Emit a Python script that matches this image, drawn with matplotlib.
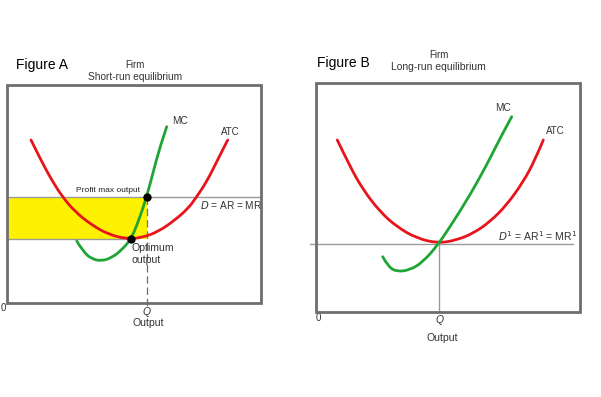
import numpy as np
import matplotlib.pyplot as plt
from matplotlib.path import Path
from matplotlib.patches import PathPatch

plt.rcParams['font.family'] = ['Liberation Sans', 'DejaVu Sans']

# everything in pixel units (x right, y down)

# Figure A - short run
atcA_x = [31, 41.7, 51.7, 62.3, 75, 91.7, 108.3, 126.7, 141.7, 158.3, 175, 188.3, 196.7, 206.7, 216.7, 227.7]
atcA_y = [140, 161.7, 180, 196.7, 211.7, 225, 234.3, 239, 237.7, 231.7, 220, 208.3, 196.7, 181.7, 161.7, 140]
mcA_x = [76.7, 83.3, 91.7, 101.7, 111.7, 121.7, 131, 138.3, 146.7, 153.3, 160, 166.7]
mcA_y = [241, 251.7, 259, 261, 257.7, 250, 239, 221.7, 196.7, 171.7, 146.7, 126.7]
priceA = 196.7     # D = AR = MR
minA = 238.5       # min ATC
qA = 146.7
optA = (131, 239)

# Figure B - long run
atcB_x = [337.3, 350, 363.3, 380, 396.7, 416.7, 438.3, 456.7, 473.3, 490, 506.7, 523.3, 535, 543.3]
atcB_y = [140, 166.7, 190, 211.7, 226.7, 238.3, 243.3, 240, 233.3, 221.7, 205, 181.7, 160, 140]
mcB_x = [382.7, 388.3, 396.7, 410, 423.3, 438.3, 453.3, 470, 486.7, 500, 511.7]
mcB_y = [256.7, 266.7, 271.7, 270, 261.7, 244.3, 221.7, 195, 165, 138.3, 116.7]
priceB = 244
qB = 438.5

red = '#e8141c'
green = '#1fa535'
grey = '#6e6e6e'
light = '#9a9a9a'
txt = '#333333'


def smooth_curve(ax, xs, ys, color):
    # quadratic bezier through midpoints, read points act as control points
    pts = list(zip(xs, ys))
    verts = [pts[0]]
    codes = [Path.MOVETO]
    for i in range(1, len(pts) - 1):
        mid = ((pts[i][0] + pts[i + 1][0]) / 2, (pts[i][1] + pts[i + 1][1]) / 2)
        if i == len(pts) - 2:
            mid = pts[-1]
        verts += [pts[i], mid]
        codes += [Path.CURVE3, Path.CURVE3]
    ax.add_patch(PathPatch(Path(verts, codes), fill=False, ec=color, lw=2, zorder=3, capstyle='round'))


fig = plt.figure(figsize=(6.01, 3.97), dpi=100)
ax = fig.add_axes([0, 0, 1, 1])
ax.set_xlim(0, 601)
ax.set_ylim(397, 0)
ax.axis('off')

# ---- Figure A ----
ax.add_patch(plt.Rectangle((7, priceA), qA - 7, minA - priceA, color='#fff200', lw=0, zorder=1))
ax.plot([7, 261], [priceA, priceA], color=light, lw=1, zorder=2)
ax.plot([7, optA[0]], [minA, minA], color=light, lw=1, zorder=2)
ax.plot([qA, qA], [priceA, 308], color=grey, lw=0.9, ls=(0, (6, 3)), zorder=2)
smooth_curve(ax, atcA_x, atcA_y, red)
smooth_curve(ax, mcA_x, mcA_y, green)
ax.plot([qA, optA[0]], [priceA, optA[1]], 'o', color='black', ms=5, zorder=4)
ax.add_patch(plt.Rectangle((7, 85), 254, 218, fill=False, ec=grey, lw=2, zorder=5))

ax.text(16, 65, 'Figure A', fontsize=10, va='center', ha='left')
ax.text(135, 65.5, 'Firm', fontsize=7, va='center', ha='center', color=txt)
ax.text(135, 76.5, 'Short-run equilibrium', fontsize=7.3, va='center', ha='center', color=txt)
ax.text(180, 121.5, 'MC', fontsize=7.2, va='center', ha='center', color=txt)
ax.text(230, 132, 'ATC', fontsize=7, va='center', ha='center', color=txt)
ax.text(108, 190.5, 'Profit max output', fontsize=6, va='center', ha='center', color='#222222')
ax.text(200, 205, r'$D$ = AR = MR', fontsize=7.3, va='center', ha='left', color=txt)
ax.text(132, 248, 'Optimum', fontsize=7.6, va='center', ha='left', color=txt)
ax.text(132, 260, 'output', fontsize=7.6, va='center', ha='left', color=txt)
ax.text(3, 308, '0', fontsize=7, va='center', ha='center', color=txt)
ax.text(qA, 312, 'Q', fontsize=7.5, va='center', ha='center', style='italic', color=txt)
ax.text(148, 323.5, 'Output', fontsize=7.6, va='center', ha='center', color=txt)

# ---- Figure B ----
ax.plot([310, 573], [priceB, priceB], color=light, lw=1, zorder=2)
ax.plot([qB, qB], [priceB, 312], color=light, lw=1, zorder=2)
smooth_curve(ax, atcB_x, atcB_y, red)
smooth_curve(ax, mcB_x, mcB_y, green)
ax.add_patch(plt.Rectangle((316, 83), 264, 229, fill=False, ec=grey, lw=2, zorder=5))

ax.text(317, 63, 'Figure B', fontsize=10, va='center', ha='left')
ax.text(439, 55, 'Firm', fontsize=7, va='center', ha='center', color=txt)
ax.text(438, 67, 'Long-run equilibrium', fontsize=7.5, va='center', ha='center', color=txt)
ax.text(503, 108, 'MC', fontsize=7.2, va='center', ha='center', color=txt)
ax.text(555, 131, 'ATC', fontsize=7, va='center', ha='center', color=txt)
ax.text(498, 236.5, r'$D^1$ = AR$^1$ = MR$^1$', fontsize=7.5, va='center', ha='left', color=txt)
ax.text(318, 318, '0', fontsize=7, va='center', ha='center', color=txt)
ax.text(440, 320, 'Q', fontsize=7.5, va='center', ha='center', style='italic', color=txt)
ax.text(442.5, 338, 'Output', fontsize=7.6, va='center', ha='center', color=txt)

fig.savefig('out.png', dpi=100)
